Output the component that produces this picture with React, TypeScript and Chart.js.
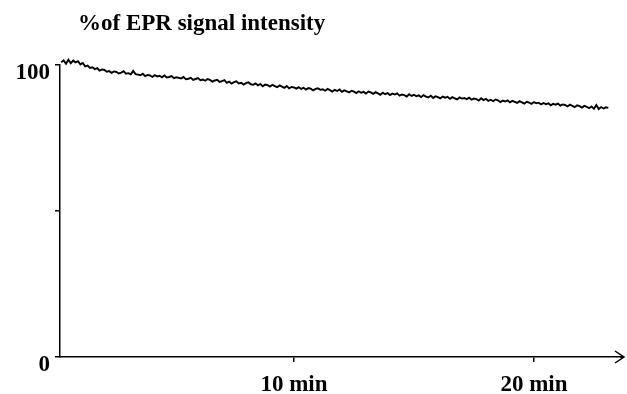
import { useEffect, useRef } from 'react';
import { Chart, registerables } from 'chart.js';

Chart.register(...registerables);

const TITLE = '%of EPR signal intensity';
const X_TICKS = [10, 20];
const X_UNIT = 'min';
const Y_TICKS = [0, 50, 100];
const Y_TICK_LABELS = [0, 100];
const X_MIN = 0.25;
const X_MAX = 23.67;
const START_MIN = 0.3;
const STEP_MIN = 0.1;

// % of EPR signal intensity, sampled every 0.1 min from 0.3 min
const signal = [
  100.9, 101.6, 100.4, 101.8, 100.6, 101.5, 100.9, 101.3, 100.2, 100.7,
  99.5, 99.8, 99.0, 99.2, 98.6, 98.9, 98.1, 98.5, 98.3, 97.7,
  97.9, 97.3, 97.8, 97.6, 97.1, 97.4, 97.9, 97.0, 97.2, 96.8,
  98.0, 96.9, 96.7, 96.5, 97.0, 96.2, 96.6, 96.4, 95.9, 96.5,
  96.1, 96.3, 95.8, 96.4, 95.7, 95.9, 96.2, 95.5, 95.8, 95.6,
  95.4, 95.9, 95.1, 95.3, 95.6, 94.9, 95.2, 95.5, 94.8, 95.0,
  94.6, 95.2, 94.9, 94.3, 94.7, 94.9, 94.2, 94.5, 94.8, 93.9,
  94.3, 93.6, 94.1, 94.4, 93.7, 93.9, 93.3, 93.8, 94.1, 93.4,
  93.2, 93.7, 93.0, 93.5, 92.7, 93.3, 93.1, 92.6, 93.2, 92.8,
  92.4, 93.0, 92.6, 92.2, 92.8, 92.0, 92.5, 92.3, 91.9, 92.4,
  91.8, 92.2, 91.6, 92.1, 91.9, 91.3, 91.8, 92.0, 91.5, 91.7,
  91.2, 91.8, 91.4, 90.9, 91.5, 91.1, 91.6, 90.8, 91.3, 91.0,
  90.6, 91.2, 90.9, 90.4, 91.0, 90.5, 90.8, 90.2, 90.9, 90.6,
  90.1, 90.7, 90.3, 89.8, 90.5, 90.0, 90.4, 89.7, 90.2, 89.9,
  90.3, 89.5, 89.9, 89.7, 89.2, 90.0, 89.4, 89.8, 89.3, 89.6,
  89.0, 89.7, 89.2, 88.9, 89.5, 88.7, 89.3, 89.0, 88.6, 89.2,
  88.8, 89.1, 88.4, 89.0, 88.6, 88.2, 88.9, 88.5, 88.7, 88.3,
  88.8, 88.1, 88.5, 88.3, 87.8, 88.6, 88.0, 88.4, 87.7, 88.1,
  87.6, 88.2, 87.9, 87.3, 87.8, 87.5, 87.9, 87.2, 87.7, 87.4,
  87.0, 87.6, 87.2, 86.8, 87.4, 87.1, 86.7, 87.3, 86.9, 87.1,
  86.5, 87.0, 86.6, 86.9, 86.2, 86.7, 86.4, 86.8, 86.1, 86.5,
  86.3, 85.8, 86.4, 86.0, 85.6, 86.2, 85.9, 85.4, 86.0, 85.7,
  85.2, 85.8, 85.0, 86.3, 84.9, 85.6, 85.1, 85.5, 85.3,
];

const FONT_FAMILY = '"Liberation Serif", "Times New Roman", serif';

const titlePlugin = {
  id: 'topTitle',
  afterDraw(chart: any) {
    const ctx = chart.ctx;
    ctx.save();
    ctx.fillStyle = '#000';
    ctx.font = `bold 23px ${FONT_FAMILY}`;
    ctx.textBaseline = 'alphabetic';
    ctx.textAlign = 'left';
    ctx.fillText(TITLE, 78, 30);
    ctx.restore();
  },
};

const arrowPlugin = {
  id: 'axisArrow',
  afterDraw(chart: any) {
    const { ctx, chartArea } = chart;
    const y = chartArea.bottom;
    const tip = chartArea.right + 2;
    ctx.save();
    ctx.strokeStyle = '#000';
    ctx.lineWidth = 1.5;
    ctx.beginPath();
    ctx.moveTo(chartArea.right - 2, y);
    ctx.lineTo(tip, y);
    ctx.moveTo(tip - 9, y - 6);
    ctx.lineTo(tip, y);
    ctx.lineTo(tip - 9, y + 6);
    ctx.stroke();
    ctx.restore();
  },
};

export default function App() {
  const ref = useRef<HTMLCanvasElement | null>(null);

  useEffect(() => {
    if (!ref.current) return;
    const points = signal.map((v, i) => ({ x: START_MIN + i * STEP_MIN, y: v }));
    const font = { family: FONT_FAMILY, size: 23, weight: 'bold' as const };
    const chart = new Chart(ref.current, {
      type: 'line',
      data: {
        datasets: [
          {
            data: points,
            borderColor: '#000',
            borderWidth: 1.9,
            pointRadius: 0,
            tension: 0,
            clip: false as any,
          },
        ],
      },
      options: {
        animation: false,
        responsive: false,
        maintainAspectRatio: false,
        layout: { padding: { top: 65, right: 5, left: 0, bottom: 0 } },
        plugins: {
          legend: { display: false },
          tooltip: { enabled: false },
          title: { display: false },
        },
        scales: {
          x: {
            type: 'linear',
            min: X_MIN,
            max: X_MAX,
            afterFit: (s: any) => {
              s.height = 37;
            },
            afterBuildTicks: (s: any) => {
              s.ticks = X_TICKS.map((v) => ({ value: v }));
            },
            grid: {
              display: true,
              drawOnChartArea: false,
              drawTicks: true,
              tickLength: 5,
              color: '#000',
              lineWidth: 1.5,
            },
            border: { display: true, color: '#000', width: 1.5 },
            ticks: {
              callback: (v: any) => `${v} ${X_UNIT}`,
              font,
              color: '#000',
              padding: 9,
              maxRotation: 0,
              autoSkip: false,
            },
          },
          y: {
            min: 0,
            max: 100,
            afterFit: (s: any) => {
              s.width = 60;
            },
            afterBuildTicks: (s: any) => {
              s.ticks = Y_TICKS.map((v) => ({ value: v }));
            },
            grid: {
              display: true,
              drawOnChartArea: false,
              drawTicks: true,
              tickLength: 5,
              color: '#000',
              lineWidth: 1.5,
            },
            border: { display: true, color: '#000', width: 1.5 },
            ticks: {
              callback: (v: any) => (Y_TICK_LABELS.includes(v) ? String(v) : ''),
              font,
              color: '#000',
              padding: 5,
              labelOffset: 8,
            },
          },
        },
      },
      plugins: [titlePlugin, arrowPlugin],
    });
    return () => chart.destroy();
  }, []);

  return (
    <div style={{ position: 'absolute', left: 0, top: 0, width: 627, height: 394, background: '#fff' }}>
      <canvas ref={ref} width={627} height={394} style={{ display: 'block' }} />
    </div>
  );
}
